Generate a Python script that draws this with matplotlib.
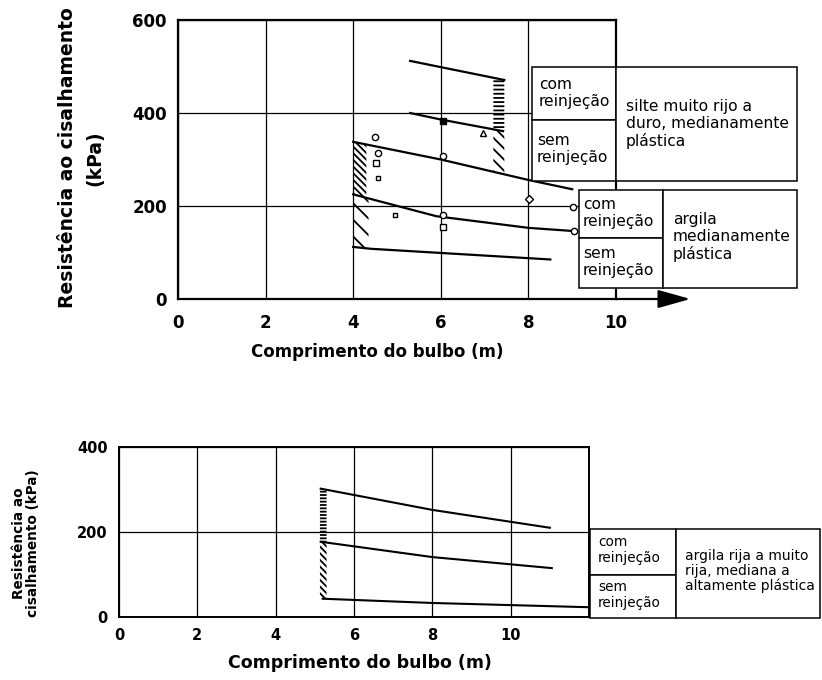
import matplotlib
matplotlib.use("Agg")
from matplotlib import pyplot as plt
from matplotlib.patches import Rectangle

plt.rcParams["font.family"] = ["DejaVu Sans"]
plt.rcParams["hatch.linewidth"] = 1.3

W, H = 822, 680

# ---------------- top chart: silte / argila medianamente plastica
top_xticks = [0, 2, 4, 6, 8, 10]
top_yticks = [0, 200, 400, 600]

silte_sup_x = [5.3, 7.45]
silte_sup_y = [512, 471]
silte_mid_x = [5.3, 6.0, 7.42]
silte_mid_y = [400, 386, 361]
meio_x = [4.0, 6.0, 8.0, 9.0]
meio_y = [338, 300, 256, 236]
argila_mid_x = [4.0, 5.9, 8.0, 9.05]
argila_mid_y = [225, 178, 153, 146]
argila_inf_x = [4.0, 4.4, 8.5]
argila_inf_y = [112, 108, 85]

# hatched bands (x range, lower, upper)
faixa_silte_com_x = [7.2, 7.45]
faixa_silte_com_lo = [363, 361]
faixa_silte_com_hi = [473, 471]
faixa_silte_sem_x = [7.2, 7.45]
faixa_silte_sem_lo = [273, 268]
faixa_silte_sem_hi = [363, 361]
faixa_argila_com_x = [4.0, 4.3]
faixa_argila_com_lo = [225, 218]
faixa_argila_com_hi = [338, 333]
faixa_argila_sem_x = [4.0, 4.35]
faixa_argila_sem_lo = [112, 108]
faixa_argila_sem_hi = [225, 217]

# measured points
circ_x = [4.49, 4.57, 6.04, 6.05, 9.02, 9.05]
circ_y = [348, 313, 307, 180, 198, 146]
quad_x = [4.53, 6.05]
quad_y = [293, 155]
quad_peq_x = [4.57, 4.95]
quad_peq_y = [261, 180]
quad_cheio_x = [6.04]
quad_cheio_y = [382]
tri_x = [6.97]
tri_y = [357]
losango_x = [8.02]
losango_y = [216]

# ---------------- bottom chart: argila rija a muito rija
bot_xticks = [0, 2, 4, 6, 8, 10]
bot_yticks = [0, 200, 400]

rija_sup_x = [5.15, 8.0, 11.0]
rija_sup_y = [302, 252, 210]
rija_mid_x = [5.15, 8.0, 11.05]
rija_mid_y = [177, 141, 115]
rija_inf_x = [5.2, 8.0, 10.0, 12.0]
rija_inf_y = [43, 33, 28, 23]

faixa_rija_com_x = [5.13, 5.3]
faixa_rija_com_lo = [177, 175]
faixa_rija_com_hi = [302, 300]
faixa_rija_sem_x = [5.13, 5.3]
faixa_rija_sem_lo = [43, 43]
faixa_rija_sem_hi = [177, 175]

xlabel = "Comprimento do bulbo (m)"


def fx(px):
    return px / W


def fy(py):
    return 1 - py / H


fig = plt.figure(figsize=(W / 100, H / 100), dpi=100)

# ---------- top axes
ax1 = fig.add_axes([fx(178), fy(299), (616 - 178) / W, (299 - 20) / H])
ax1.set_xlim(0, 10)
ax1.set_ylim(0, 600)
ax1.set_xticks(top_xticks)
ax1.set_yticks(top_yticks)
ax1.grid(True, color="black", lw=0.9)
ax1.set_axisbelow(True)
ax1.tick_params(length=0, labelsize=12)
ax1.tick_params(axis="x", pad=11)
ax1.tick_params(axis="y", pad=8)
for lab in ax1.get_xticklabels() + ax1.get_yticklabels():
    lab.set_fontweight("bold")
for sp in ax1.spines.values():
    sp.set_linewidth(1.6)

for xs, ys in [(silte_sup_x, silte_sup_y), (silte_mid_x, silte_mid_y),
               (meio_x, meio_y), (argila_mid_x, argila_mid_y),
               (argila_inf_x, argila_inf_y)]:
    ax1.plot(xs, ys, color="black", lw=1.6)

hatch_kw = dict(facecolor="none", edgecolor="black", lw=0)
ax1.fill_between(faixa_silte_com_x, faixa_silte_com_lo, faixa_silte_com_hi,
                 hatch="-" * 4, **hatch_kw)
ax1.fill_between(faixa_silte_sem_x, faixa_silte_sem_lo, faixa_silte_sem_hi,
                 hatch="\\" * 3, **hatch_kw)
ax1.fill_between(faixa_argila_com_x, faixa_argila_com_lo, faixa_argila_com_hi,
                 hatch="\\" * 5, **hatch_kw)
ax1.fill_between(faixa_argila_sem_x, faixa_argila_sem_lo, faixa_argila_sem_hi,
                 hatch="\\" * 2, **hatch_kw)

mk = dict(ls="none", mfc="white", mec="black", mew=1.0, zorder=4)
ax1.plot(circ_x, circ_y, marker="o", ms=4.5, **mk)
ax1.plot(quad_x, quad_y, marker="s", ms=4.5, **mk)
ax1.plot(quad_peq_x, quad_peq_y, marker="s", ms=3, **mk)
ax1.plot(tri_x, tri_y, marker="^", ms=4, **mk)
ax1.plot(losango_x, losango_y, marker="D", ms=4, **mk)
ax1.plot(quad_cheio_x, quad_cheio_y, marker="s", ms=4.5, ls="none",
         color="black", zorder=4)

# arrow on the x axis
ax1.annotate("", xy=(11.7, 0), xytext=(10, 0), annotation_clip=False,
             arrowprops=dict(arrowstyle="-|>,head_length=1.0,head_width=0.28",
                             color="black", lw=1.6, mutation_scale=20,
                             shrinkA=0, shrinkB=0))

fig.text(fx(377), fy(352), xlabel, ha="center", va="center",
         fontsize=12, fontweight="bold")
fig.text(fx(81), fy(158), "Resistência ao cisalhamento\n(kPa)", rotation=90,
         ha="center", va="center", multialignment="center",
         fontsize=13.5, fontweight="bold", linespacing=1.55)

# ---------- bottom axes
ax2 = fig.add_axes([fx(119), fy(617), (589 - 119) / W, (617 - 447) / H])
ax2.set_xlim(0, 12)
ax2.set_ylim(0, 400)
ax2.set_xticks(bot_xticks)
ax2.set_yticks(bot_yticks)
ax2.grid(True, color="black", lw=0.9)
ax2.set_axisbelow(True)
ax2.tick_params(length=0, labelsize=10.5)
ax2.tick_params(axis="x", pad=8)
ax2.tick_params(axis="y", pad=8)
for lab in ax2.get_xticklabels() + ax2.get_yticklabels():
    lab.set_fontweight("bold")
for sp in ax2.spines.values():
    sp.set_linewidth(1.4)

for xs, ys in [(rija_sup_x, rija_sup_y), (rija_mid_x, rija_mid_y),
               (rija_inf_x, rija_inf_y)]:
    ax2.plot(xs, ys, color="black", lw=1.5)

ax2.fill_between(faixa_rija_com_x, faixa_rija_com_lo, faixa_rija_com_hi,
                 hatch="-" * 5, **hatch_kw)
ax2.fill_between(faixa_rija_sem_x, faixa_rija_sem_lo, faixa_rija_sem_hi,
                 hatch="\\" * 5, **hatch_kw)

fig.text(fx(360), fy(663), xlabel, ha="center", va="center",
         fontsize=12.5, fontweight="bold")
fig.text(fx(26), fy(543), "Resistência ao\ncisalhamento (kPa)", rotation=90,
         ha="center", va="center", multialignment="center",
         fontsize=9.8, fontweight="bold", linespacing=1.0)


# ---------- legend tables
def cell(x0, y0, x1, y1):
    fig.add_artist(Rectangle((fx(x0), fy(y1)), (x1 - x0) / W, (y1 - y0) / H,
                             transform=fig.transFigure, facecolor="white",
                             edgecolor="black", lw=1.1, zorder=5))


def txt(x, y, s, size, ls):
    fig.text(fx(x), fy(y), s, ha="left", va="center", fontsize=size,
             linespacing=ls, zorder=6)


com = "com\nreinjeção"
sem = "sem\nreinjeção"

cell(532, 67, 616, 120)
cell(532, 120, 616, 181)
cell(616, 67, 797, 181)
txt(539, 93, com, 11.2, 1.15)
txt(537, 149, sem, 11.2, 1.15)
txt(626, 124, "silte muito rijo a\nduro, medianamente\nplástica", 11.2, 1.15)

cell(579, 190, 663, 238)
cell(579, 238, 663, 288)
cell(663, 190, 797, 288)
txt(583, 213, com, 11.2, 1.15)
txt(583, 262, sem, 11.2, 1.15)
txt(673, 237, "argila\nmedianamente\nplástica", 11.2, 1.15)

cell(590, 529, 676, 575)
cell(590, 575, 676, 618)
cell(676, 529, 820, 618)
txt(598, 550, com, 9.8, 1.15)
txt(598, 595, sem, 9.8, 1.15)
txt(685, 571, "argila rija a muito\nrija, mediana a\naltamente plástica", 10, 1.05)

fig.savefig("out.png", dpi=100)
